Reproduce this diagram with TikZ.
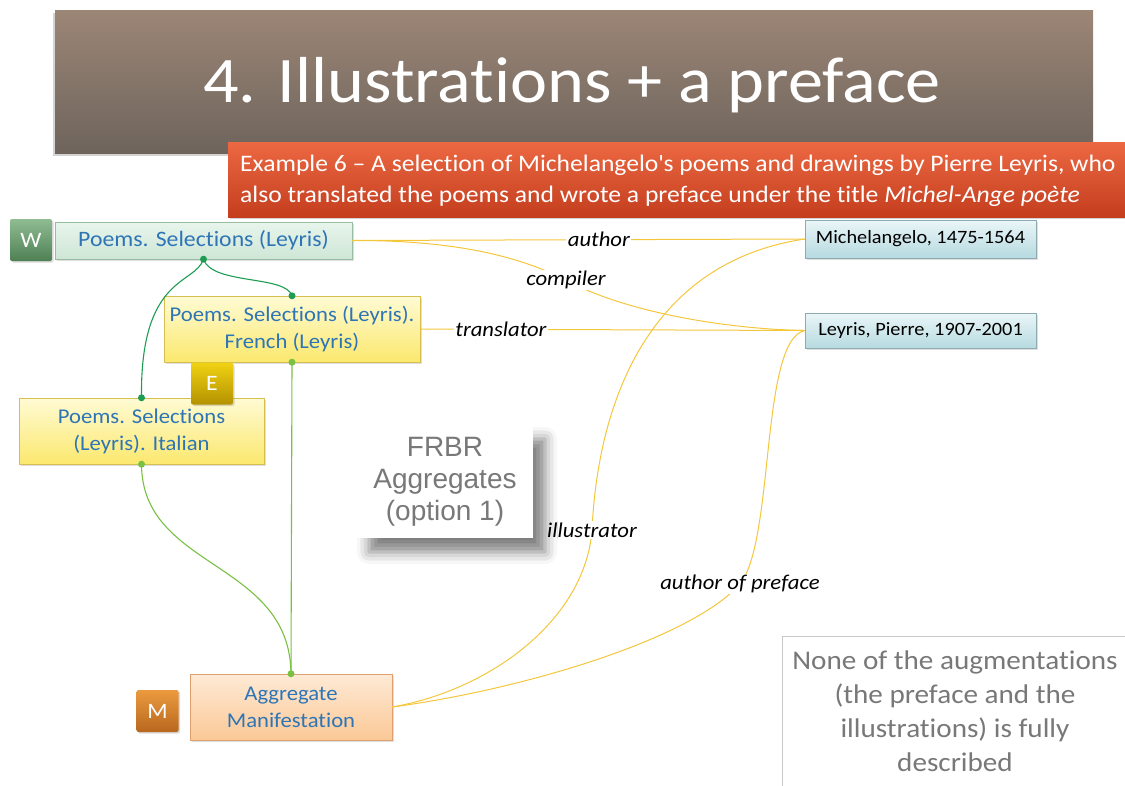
\documentclass[tikz,border=0pt]{standalone}
\usepackage{fontspec}
\setmainfont{Carlito}[Ligatures=NoCommon, FakeStretch=1.08]
\newfontfamily\arialfont{Liberation Sans}
\usetikzlibrary{shadows,shadows.blur}

\definecolor{titletop}{RGB}{156,134,118}
\definecolor{titlebot}{RGB}{110,100,92}
\definecolor{redtop}{RGB}{236,104,66}
\definecolor{redbot}{RGB}{196,62,30}
\definecolor{wtop}{RGB}{144,188,146}
\definecolor{wbot}{RGB}{78,128,84}
\definecolor{etop}{RGB}{240,210,20}
\definecolor{ebot}{RGB}{180,146,0}
\definecolor{mtop}{RGB}{236,154,64}
\definecolor{mbot}{RGB}{184,104,30}
\definecolor{worktop}{RGB}{232,245,236}
\definecolor{workbot}{RGB}{206,230,214}
\definecolor{workline}{RGB}{150,188,162}
\definecolor{yeltop}{RGB}{255,251,212}
\definecolor{yelbot}{RGB}{251,232,110}
\definecolor{yelline}{RGB}{214,190,80}
\definecolor{peachtop}{RGB}{254,234,214}
\definecolor{peachbot}{RGB}{251,200,150}
\definecolor{peachline}{RGB}{222,160,110}
\definecolor{bluetop}{RGB}{234,246,248}
\definecolor{bluebot}{RGB}{182,218,224}
\definecolor{blueline}{RGB}{140,172,178}
\definecolor{nametext}{RGB}{46,117,182}
\definecolor{dkgreen}{RGB}{30,156,84}
\definecolor{ltgreen}{RGB}{122,192,66}
\definecolor{gold}{RGB}{244,198,60}
\definecolor{greytext}{RGB}{120,120,120}
\definecolor{noteline}{RGB}{200,200,200}

\tikzset{
  boxtext/.style={font=\fontsize{21}{27}\selectfont, align=center},
  entity/.style={boxtext, inner sep=0pt, text=nametext,
    drop shadow={shadow xshift=1.5pt, shadow yshift=-1.5pt, opacity=0.25}},
  workbox/.style={entity, font=\fontsize{22}{27}\selectfont, draw=workline, top color=worktop, bottom color=workbot},
  exprbox/.style={entity, draw=yelline, top color=yeltop, bottom color=yelbot},
  manifbox/.style={entity, draw=peachline, top color=peachtop, bottom color=peachbot},
  personbox/.style={entity, text=black, font=\fontsize{18.8}{24}\selectfont,
    draw=blueline, top color=bluetop, bottom color=bluebot},
  badge/.style={minimum width=42, minimum height=42, inner sep=0pt, rounded corners=2pt,
    text=white, font=\fontsize{22}{22}\selectfont,
    drop shadow={shadow xshift=1.5pt, shadow yshift=-1.5pt, opacity=0.3}},
  gline/.style={dkgreen, line width=1.1pt},
  lgline/.style={ltgreen, line width=1.1pt},
  rel/.style={gold, line width=1pt},
  rellabel/.style={fill=white, inner sep=1.5pt, text=black, font=\fontsize{21}{21}\selectfont\itshape},
}

\begin{document}
\begin{tikzpicture}[x=1pt, y=-1pt]
\useasboundingbox (0,0) rectangle (1125,785);
\clip (0,0) rectangle (1125,785);

% slide title
\node[minimum width=1038, minimum height=143, inner sep=0pt,
      top color=titletop, bottom color=titlebot,
      drop shadow={shadow xshift=-2pt, shadow yshift=-3pt, opacity=0.35}]
  (title) at (574,81.5) {};
\node[text=white, font=\fontsize{65}{65}\selectfont] (titletext) at (572,85) {4. Illustrations + a preface};

% example banner
\node[minimum width=920, minimum height=75, inner sep=0pt,
      top color=redtop, bottom color=redbot,
      drop shadow={shadow xshift=1.5pt, shadow yshift=-2pt, opacity=0.35}]
  (banner) at (688,179.5) {};
\node[anchor=west, text=white, align=left, inner sep=0pt,
      font=\fontsize{23.7}{31}\selectfont] (bannertext) at (240,181)
  {Example 6 – A selection of Michelangelo\textquotesingle s poems and drawings by Pierre Leyris, who\\
   also translated the poems and wrote a preface under the title \textit{Michel-Ange po\`ete}};

% entities
\node[workbox, minimum width=297, minimum height=37] (work) at (203.5,240.5) {Poems. Selections (Leyris)};
\node[exprbox, minimum width=256, minimum height=66] (french) at (292,329) {Poems. Selections (Leyris).\\French (Leyris)};
\node[exprbox, minimum width=245, minimum height=66] (italian) at (141.5,431) {Poems. Selections\\(Leyris). Italian};
\node[manifbox, minimum width=202, minimum height=66] (manif) at (291,707) {Aggregate\\Manifestation};
\node[personbox, minimum width=231, minimum height=38] (mich) at (920.5,239) {Michelangelo, 1475-1564};
\node[personbox, minimum width=231, minimum height=35] (leyris) at (920.5,330.5) {Leyris, Pierre, 1907-2001};

% entity-type badges
\node[badge, top color=wtop, bottom color=wbot] (wbadge) at (31,240) {W};
\node[badge, top color=etop, bottom color=ebot] (ebadge) at (212,383.5) {E};
\node[badge, top color=mtop, bottom color=mbot] (mbadge) at (157.5,711) {M};

% work / expression / manifestation links
\draw[gline] (work.south) .. controls (212,285) and (286,275) .. (french.north);
\draw[gline] (work.south) .. controls (195,285) and (140,275) .. (italian.north);
\draw[lgline] (italian.south) .. controls (142,570) and (290,560) .. (manif.north);
\draw[lgline] (french.south) -- (manif.north);
\fill[dkgreen] (work.south) circle (3.5);
\fill[dkgreen] (french.north) circle (3.5);
\fill[dkgreen] (italian.north) circle (3.5);
\fill[ltgreen] (italian.south) circle (3.5);
\fill[ltgreen] (french.south) circle (3.5);
\fill[ltgreen] (manif.north) circle (3.5);

% responsibility relationships
\draw[rel] (work.east) -- node[rellabel, pos=0.545] (lauthor) {author} (mich.west);
\draw[rel] (work.east) .. controls (470,240) and (530,262) .. (566,280)
  node[rellabel] (lcompiler) {compiler}
  .. controls (620,310) and (720,329) .. (leyris.west);
\draw[rel] (french.east) -- node[rellabel, pos=0.21] (ltranslator) {translator} (leyris.west);
\draw[rel] (manif.east) .. controls (490,690) and (585,620) .. (592,530)
  node[rellabel] (lillustrator) {illustrator}
  .. controls (598,400) and (650,262) .. (mich.west);
\draw[rel] (manif.east) .. controls (520,690) and (690,640) .. (740,584)
  node[rellabel] (lpreface) {author of preface}
  .. controls (775,540) and (760,340) .. (leyris.west);

% model caption
\node[fill=white, minimum width=176, minimum height=113, inner sep=0pt, align=center,
      text=greytext, font=\arialfont\fontsize{28}{32}\selectfont,
      blur shadow={shadow xshift=12pt, shadow yshift=-14pt, shadow blur radius=12pt, shadow opacity=50}]
  (frbr) at (445,481.5) {FRBR\\Aggregates\\(option 1)};

% remark box
\node[draw=noteline, fill=white, minimum width=360, minimum height=160, inner sep=0pt] (notebox) at (962,716) {};
\node[text=greytext, align=center, font=\fontsize{27}{34}\selectfont] (notetext) at (955,711)
  {None of the augmentations\\(the preface and the\\illustrations) is fully\\described};
\end{tikzpicture}
\end{document}
